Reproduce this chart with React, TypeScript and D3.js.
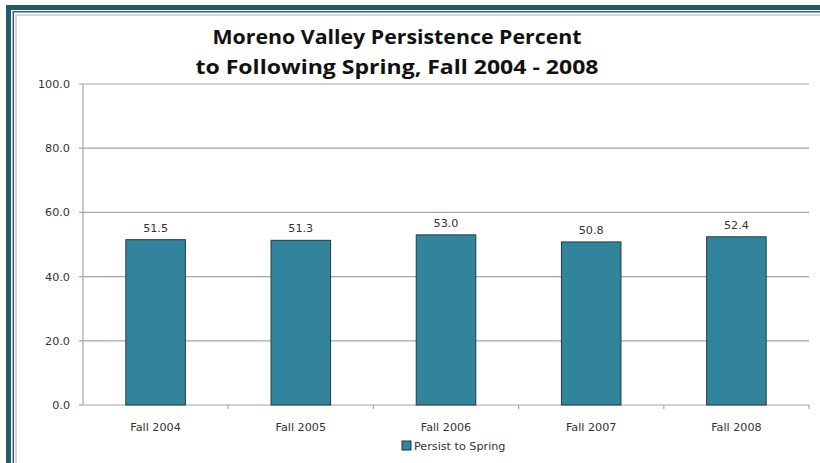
import React from "react";
import * as d3 from "d3";

const categories = ["Fall 2004", "Fall 2005", "Fall 2006", "Fall 2007", "Fall 2008"];
const persistValues = [51.5, 51.3, 53.0, 50.8, 52.4];
const yTicks = [0, 20, 40, 60, 80, 100];
const titleLines = ["Moreno Valley Persistence Percent", "to Following Spring, Fall 2004 - 2008"];
const seriesName = "Persist to Spring";

const width = 820;
const height = 463;
const margin = { top: 84, right: 11, bottom: 58, left: 83 };
const titleFont = "'Open Sans', Lato, sans-serif";
const font = "'DejaVu Sans', sans-serif";
const titleWidths = [369, 403];

const App = () => {
  const innerW = width - margin.left - margin.right;
  const innerH = height - margin.top - margin.bottom;

  const x = d3.scaleBand().domain(categories).range([0, innerW]).paddingInner(0.59).paddingOuter(0.295);
  const y = d3.scaleLinear().domain([0, 100]).range([innerH, 0]);
  const step = innerW / categories.length;

  return (
    <svg width={width} height={height} style={{ position: "absolute", left: 0, top: 0 }}>
      <rect x={0} y={0} width={width} height={height} fill="#fff" />
      {/* frame */}
      <rect x={8.5} y={7.5} width={width + 20} height={height + 20} fill="none" stroke="#22596b" strokeWidth={5} />
      <rect x={13.3} y={11.8} width={width + 20} height={height + 20} fill="none" stroke="#22596b" strokeWidth={1.4} />
      <rect x={16} y={15} width={width + 20} height={height + 20} fill="none" stroke="#c8c8c8" strokeWidth={1.5} />

      {titleLines.map((t, i) => (
        <text
          key={t}
          x={397 - titleWidths[i] / 2}
          y={44 + i * 30}
          textLength={titleWidths[i]}
          lengthAdjust="spacingAndGlyphs"
          fontFamily={titleFont}
          fontWeight="bold"
          fontSize={19}
          fill="#111"
        >
          {t}
        </text>
      ))}

      <g transform={`translate(${margin.left},${margin.top})`}>
        {yTicks.map((t) => (
          <g key={t} transform={`translate(0,${y(t)})`}>
            {t > 0 && <line x1={0} x2={innerW} stroke="#a6a6a6" strokeWidth={1.2} />}
            <line x1={-4} x2={0} stroke="#a6a6a6" strokeWidth={1.2} />
            <text x={-13} dy="0.35em" textAnchor="end" fontFamily={font} fontSize={11.2} fill="#333">
              {t.toFixed(1)}
            </text>
          </g>
        ))}
        <line x1={0} x2={0} y1={0} y2={innerH} stroke="#a6a6a6" strokeWidth={1.2} />
        <line x1={0} x2={innerW} y1={innerH} y2={innerH} stroke="#a6a6a6" strokeWidth={1.2} />
        {d3.range(1, categories.length + 1).map((i) => (
          <line key={i} x1={i * step} x2={i * step} y1={innerH} y2={innerH + 4} stroke="#a6a6a6" strokeWidth={1.2} />
        ))}

        {categories.map((c, i) => (
          <g key={c}>
            <rect
              x={x(c)}
              y={y(persistValues[i])}
              width={x.bandwidth()}
              height={innerH - y(persistValues[i])}
              fill="#31849b"
              stroke="#1e3a44"
              strokeWidth={1}
            />
            <text x={x(c)! + x.bandwidth() / 2} y={y(persistValues[i]) - 8} textAnchor="middle" fontFamily={font} fontSize={11.2} fill="#333">
              {persistValues[i].toFixed(1)}
            </text>
            <text x={x(c)! + x.bandwidth() / 2} y={innerH + 26} textAnchor="middle" fontFamily={font} fontSize={11.2} fill="#333">
              {c}
            </text>
          </g>
        ))}
      </g>

      <g transform="translate(402,441)">
        <rect x={0} y={0} width={9} height={9} fill="#31849b" stroke="#1e3a44" strokeWidth={1} />
        <text x={12} y={9} fontFamily={font} fontSize={11.2} fill="#333">
          {seriesName}
        </text>
      </g>
    </svg>
  );
};

export default App;
